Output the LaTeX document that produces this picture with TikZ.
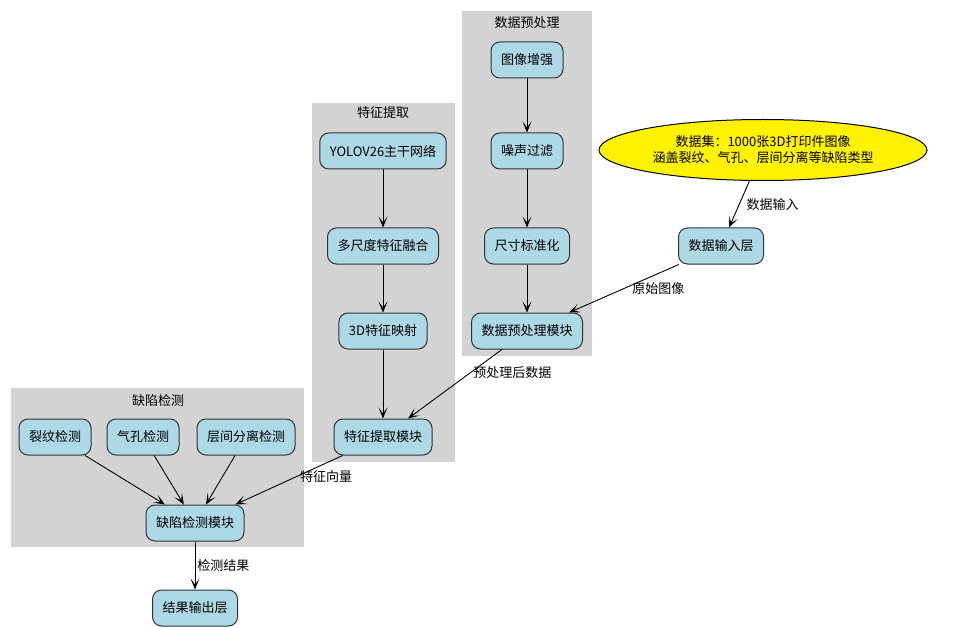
\documentclass[tikz,border=0pt]{standalone}
\usepackage{fontspec}
\setmainfont{Noto Sans CJK SC}
\usetikzlibrary{shapes.geometric, arrows.meta}
\definecolor{boxblue}{HTML}{ADD8E6}
\definecolor{clustergray}{HTML}{D3D3D3}
\definecolor{edgegray}{HTML}{333333}
\tikzset{
  module/.style={rectangle, rounded corners=9pt, minimum height=36pt, inner xsep=10pt, text centered, draw=edgegray, line width=1pt, fill=boxblue},
  dataset/.style={ellipse, minimum width=328pt, minimum height=61pt, align=center, draw=black, line width=1pt, fill=yellow, inner sep=0pt},
  cluster/.style={fill=clustergray},
  arrow/.style={line width=0.9pt, -{Stealth[length=11pt, width=9pt, inset=6pt]}},
  edgelabel/.style={right, inner sep=2pt}
}

\begin{document}
\begin{tikzpicture}[x=1pt, y=-1pt, font=\fontsize{13}{16}\selectfont]

  \useasboundingbox (0,0) rectangle (960,628);

  \fill [cluster] (462,11) rectangle (592,356);
  \fill [cluster] (312,103) rectangle (455,462);
  \fill [cluster] (11,388) rectangle (304,547);
  \node (preTitle) at (527,23) {数据预处理};
  \node (featTitle) at (383,113) {特征提取};
  \node (detTitle) at (158,401) {缺陷检测};

  \node (dataset) [dataset] at (763,150) {数据集：1000张3D打印件图像\\涵盖裂纹、气孔、层间分离等缺陷类型};
  \node (input) [module] at (721,246) {数据输入层};

  \node (enhance) [module] at (527,60) {图像增强};
  \node (denoise) [module] at (527,151) {噪声过滤};
  \node (resize) [module] at (527,246) {尺寸标准化};
  \node (preproc) [module] at (527,331) {数据预处理模块};

  \node (backbone) [module] at (383,151) {YOLOV26主干网络};
  \node (fusion) [module] at (383,246) {多尺度特征融合};
  \node (mapping) [module] at (383,331) {3D特征映射};
  \node (feature) [module] at (383,437) {特征提取模块};

  \node (crack) [module] at (55,437) {裂纹检测};
  \node (pore) [module] at (143,437) {气孔检测};
  \node (delam) [module] at (246,437) {层间分离检测};
  \node (detect) [module] at (195,523) {缺陷检测模块};
  \node (output) [module] at (195,608) {结果输出层};

  \draw [arrow] (dataset) -- node[edgelabel, xshift=5pt] {数据输入} (input);
  \draw [arrow] (input) -- node[edgelabel, xshift=6pt] {原始图像} (preproc);
  \draw [arrow] (enhance) -- (denoise);
  \draw [arrow] (denoise) -- (resize);
  \draw [arrow] (resize) -- (preproc);
  \draw [arrow] (preproc) -- node[edgelabel, pos=0.33] {预处理后数据} (feature);
  \draw [arrow] (backbone) -- (fusion);
  \draw [arrow] (fusion) -- (mapping);
  \draw [arrow] (mapping) -- (feature);
  \draw [arrow] (feature) -- node[edgelabel, pos=0.42] {特征向量} (detect);
  \draw [arrow] (crack) -- (detect);
  \draw [arrow] (pore) -- (detect);
  \draw [arrow] (delam) -- (detect);
  \draw [arrow] (detect) -- node[edgelabel] {检测结果} (output);

\end{tikzpicture}
\end{document}
